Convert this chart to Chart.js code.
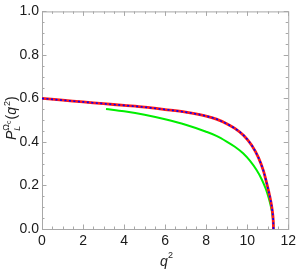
<!DOCTYPE html>
<html><head><meta charset="utf-8">
<script src="https://cdn.jsdelivr.net/npm/chart.js@4"></script>
<style>html,body{margin:0;padding:0;background:#fff}</style>
</head><body>
<canvas id="c" width="300" height="273"></canvas>
<script>
const qRed = [0, 1, 2, 3, 4, 5, 6, 7, 8, 8.5, 9, 9.4, 9.83, 10.22, 10.55, 10.79, 10.91, 11.05, 11.15, 11.22, 11.26, 11.275, 11.28];
const pRed = [0.600, 0.592, 0.584, 0.576, 0.568, 0.560, 0.549, 0.537, 0.519, 0.505, 0.484, 0.462, 0.430, 0.385, 0.328, 0.268, 0.226, 0.172, 0.128, 0.088, 0.053, 0.026, 0.0];
const qGreen = [3.12, 4, 5, 6, 7, 8, 8.5, 9, 9.4, 9.8, 10.14, 10.45, 10.7, 10.9, 11.05, 11.15, 11.22, 11.26, 11.275, 11.28];
const pGreen = [0.552, 0.541, 0.525, 0.504, 0.479, 0.447, 0.428, 0.402, 0.378, 0.348, 0.313, 0.272, 0.230, 0.186, 0.142, 0.105, 0.072, 0.040, 0.020, 0.0];
const xTicks = [0, 2, 4, 6, 8, 10, 12];
const yTicks = ['0.0', '0.2', '0.4', '0.6', '0.8', '1.0'];

const pts = (xs, ys) => xs.map((x, i) => ({x: x, y: ys[i]}));

const frame = {
  id: 'frame',
  beforeDatasetsDraw(chart) {
    const {ctx, chartArea: a, scales: {x, y}} = chart;
    ctx.save();
    ctx.strokeStyle = '#a8a8a8';
    ctx.lineWidth = 1;
    ctx.strokeRect(a.left + 0.5, a.top + 0.5, a.right - a.left, a.bottom - a.top);
    ctx.beginPath();
    for (let v = 0; v <= 12.001; v += 0.5) {
      const px = Math.round(x.getPixelForValue(v)) + 0.5;
      const len = (Math.abs(v / 2 - Math.round(v / 2)) < 1e-6) ? 4.5 : 2.5;
      ctx.moveTo(px, a.bottom); ctx.lineTo(px, a.bottom - len);
      ctx.moveTo(px, a.top); ctx.lineTo(px, a.top + len);
    }
    for (let v = 0; v <= 1.0001; v += 0.05) {
      const py = Math.round(y.getPixelForValue(v)) + 0.5;
      const len = (Math.abs(v / 0.2 - Math.round(v / 0.2)) < 1e-6) ? 4.5 : 2.5;
      ctx.moveTo(a.left, py); ctx.lineTo(a.left + len, py);
      ctx.moveTo(a.right, py); ctx.lineTo(a.right - len, py);
    }
    ctx.stroke();
    ctx.restore();
  }
};

const titles = {
  id: 'titles',
  afterDraw(chart) {
    const ctx = chart.ctx;
    ctx.save();
    ctx.fillStyle = '#222';
    ctx.textBaseline = 'alphabetic';
    // x title
    ctx.font = 'italic 14px "Liberation Sans", Arial, sans-serif';
    ctx.fillText('q', 160, 266);
    ctx.font = '9px "Liberation Sans", Arial, sans-serif';
    ctx.fillText('2', 168, 258);
    // y title rotated
    ctx.translate(16, 140);
    ctx.rotate(-Math.PI / 2);
    let x0 = 0;
    const seg = (t, font, dy) => { ctx.font = font; ctx.fillText(t, x0, dy); x0 += ctx.measureText(t).width; };
    seg('P', 'italic 14px "Liberation Sans", Arial, sans-serif', 0);
    const xs = x0;
    ctx.font = 'italic 9px "Liberation Sans", Arial, sans-serif';
    ctx.fillText('L', xs, 4);
    seg('Ω', '9px "Liberation Sans", Arial, sans-serif', -7);
    seg('c', '7px "Liberation Sans", Arial, sans-serif', -5);
    x0 += 1;
    seg('(', '14px "Liberation Sans", Arial, sans-serif', 0);
    seg('q', 'italic 14px "Liberation Sans", Arial, sans-serif', 0);
    x0 += 1;
    seg('2', '9px "Liberation Sans", Arial, sans-serif', -6);
    seg(')', '14px "Liberation Sans", Arial, sans-serif', 0);
    ctx.restore();
  }
};

new Chart(document.getElementById('c'), {
  type: 'scatter',
  data: {
    datasets: [
      {data: pts(qRed, pRed), showLine: true, borderColor: '#0000ff', borderWidth: 1.6, borderDash: [2, 2.5], pointRadius: 0, cubicInterpolationMode: 'monotone', order: 0},
      {data: pts(qRed, pRed), showLine: true, borderColor: '#ff1a1a', borderWidth: 2.8, pointRadius: 0, cubicInterpolationMode: 'monotone', order: 1},
      {data: pts(qGreen, pGreen), showLine: true, borderColor: '#00ee00', borderWidth: 2, pointRadius: 0, cubicInterpolationMode: 'monotone', order: 2}
    ]
  },
  options: {
    responsive: false,
    animation: false,
    devicePixelRatio: 1,
    layout: {padding: {top: 6, right: 8, left: 0, bottom: 0}},
    plugins: {legend: {display: false}, tooltip: {enabled: false}},
    scales: {
      x: {
        type: 'linear', min: 0, max: 12,
        afterBuildTicks: s => { s.ticks = xTicks.map(v => ({value: v})); },
        ticks: {font: {size: 14, family: '"Liberation Sans", Arial, sans-serif'}, color: '#1a1a1a', padding: 4, maxRotation: 0, autoSkip: false},
        grid: {display: false, drawTicks: false},
        border: {display: false},
        afterFit: s => { s.height = 44; }
      },
      y: {
        type: 'linear', min: 0, max: 1,
        afterBuildTicks: s => { s.ticks = yTicks.map(v => ({value: parseFloat(v)})); },
        ticks: {font: {size: 14, family: '"Liberation Sans", Arial, sans-serif'}, color: '#1a1a1a', padding: 3, autoSkip: false,
          callback: (v) => yTicks.find(t => Math.abs(parseFloat(t) - v) < 1e-6) || ''},
        grid: {display: false, drawTicks: false},
        border: {display: false},
        afterFit: s => { s.width = 42; }
      }
    }
  },
  plugins: [frame, titles]
});
</script>
</body></html>
